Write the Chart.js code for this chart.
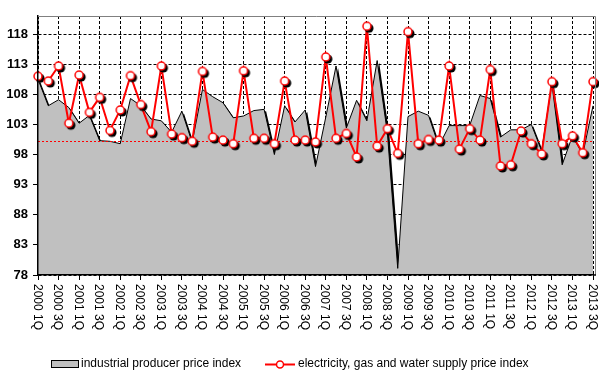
<!DOCTYPE html>
<html>
<head>
<meta charset="utf-8">
<script src="https://cdn.jsdelivr.net/npm/chart.js@4/dist/chart.umd.min.js"></script>
<style>
html,body{margin:0;padding:0;background:#fff;}
#wrap{position:relative;width:611px;height:392px;}
</style>
</head>
<body>
<div id="wrap"><canvas id="c" width="611" height="392"></canvas></div>
<script>
const categories = [
  '2000 1Q','2000 2Q','2000 3Q','2000 4Q',
  '2001 1Q','2001 2Q','2001 3Q','2001 4Q',
  '2002 1Q','2002 2Q','2002 3Q','2002 4Q',
  '2003 1Q','2003 2Q','2003 3Q','2003 4Q',
  '2004 1Q','2004 2Q','2004 3Q','2004 4Q',
  '2005 1Q','2005 2Q','2005 3Q','2005 4Q',
  '2006 1Q','2006 2Q','2006 3Q','2006 4Q',
  '2007 1Q','2007 2Q','2007 3Q','2007 4Q',
  '2008 1Q','2008 2Q','2008 3Q','2008 4Q',
  '2009 1Q','2009 2Q','2009 3Q','2009 4Q',
  '2010 1Q','2010 2Q','2010 3Q','2010 4Q',
  '2011 1Q','2011 2Q','2011 3Q','2011 4Q',
  '2012 1Q','2012 2Q','2012 3Q','2012 4Q',
  '2013 1Q','2013 2Q','2013 3Q'
];

// industrial producer price index (grey area)
const ppiValues = [
  110.5, 106.1, 107.1, 105.8,
  103.2, 104.5, 100.3, 100.2,
  99.8, 107.3, 106.1, 103.9,
  103.6, 101.7, 105.2, 100.0,
  108.8, 107.6, 106.6, 104.1,
  104.4, 105.3, 105.5, 98.0,
  106.1, 103.4, 105.4, 96.0,
  104.2, 112.7, 102.4, 107.0,
  103.6, 113.6, 101.5, 79.1,
  104.3, 105.2, 104.5, 99.4,
  102.8, 102.8, 102.8, 107.8,
  107.3, 100.9, 102.1, 102.1,
  103.0, 98.6, 109.8, 96.3,
  101.1, 98.0, 106.1
];

// electricity, gas and water supply price index (red line)
const elecValues = [
  111.0, 110.2, 112.7, 103.2,
  111.2, 105.0, 107.5, 102.0,
  105.4, 111.1, 106.3, 101.8,
  112.7, 101.4, 100.8, 100.2,
  111.8, 100.9, 100.4, 99.8,
  111.9, 100.7, 100.7, 99.8,
  110.2, 100.4, 100.4, 100.1,
  114.2, 100.7, 101.5, 97.6,
  119.3, 99.4, 102.3, 98.2,
  118.4, 99.8, 100.5, 100.4,
  112.7, 98.9, 102.3, 100.4,
  112.1, 96.1, 96.3, 101.9,
  99.8, 98.1, 110.1, 99.8,
  101.1, 98.3, 110.1
];

const yTicks = [78, 83, 88, 93, 98, 103, 108, 113, 118];
const yMin = 78;
const yMax = 121;
const referenceLevel = 100.3;
const seriesNames = ['industrial producer price index', 'electricity, gas and water supply price index'];

const FONT = '"Liberation Sans", Arial, sans-serif';
Chart.defaults.font.family = FONT;

// marker image: white circle, red ring, black drop shadow
function makeMarker() {
  const c = document.createElement('canvas');
  c.width = 18; c.height = 18;
  const g = c.getContext('2d');
  g.fillStyle = '#000';
  g.beginPath(); g.arc(11, 11, 4.6, 0, Math.PI * 2); g.fill();
  g.fillStyle = '#fff';
  g.strokeStyle = '#ff0000';
  g.lineWidth = 1.5;
  g.beginPath(); g.arc(9, 9, 4, 0, Math.PI * 2); g.fill(); g.stroke();
  return c;
}
const marker = makeMarker();

function setShadow(ctx, on) {
  ctx.shadowColor = on ? '#000' : 'rgba(0,0,0,0)';
  ctx.shadowOffsetX = on ? 2 : 0;
  ctx.shadowOffsetY = on ? 2 : 0;
  ctx.shadowBlur = 0;
}

const decorPlugin = {
  id: 'decor',
  beforeDatasetsDraw(chart) {
    chart.ctx.save();
    setShadow(chart.ctx, true); // shadow for the grey fill (filler draws it first)
  },
  beforeDatasetDraw(chart) {
    setShadow(chart.ctx, false);
  },
  afterDatasetDraw(chart, args) {
    const ctx = chart.ctx;
    if (args.index === 1) {
      const a = chart.chartArea;
      const y = Math.round(chart.scales.y.getPixelForValue(referenceLevel)) + 0.5;
      ctx.save();
      ctx.strokeStyle = '#ff0000';
      ctx.lineWidth = 1;
      ctx.setLineDash([2, 2]);
      ctx.beginPath();
      ctx.moveTo(a.left, y);
      ctx.lineTo(a.right, y);
      ctx.stroke();
      ctx.restore();
    }
  },
  afterDatasetsDraw(chart) {
    chart.ctx.restore();
  },
  afterDraw(chart) {
    const ctx = chart.ctx;
    const a = chart.chartArea;
    const xs = chart.scales.x;
    ctx.save();
    // plot frame top/right (grey)
    ctx.strokeStyle = '#808080';
    ctx.lineWidth = 1;
    ctx.beginPath();
    ctx.moveTo(a.left, a.top + 0.5);
    ctx.lineTo(a.right + 2.5, a.top + 0.5);
    ctx.lineTo(a.right + 2.5, a.bottom);
    ctx.stroke();
    ctx.strokeStyle = '#000';
    ctx.lineWidth = 1.5;
    ctx.beginPath();
    ctx.moveTo(a.right, a.bottom);
    ctx.lineTo(a.right + 3, a.bottom);
    ctx.stroke();

    // x labels, rotated clockwise
    ctx.fillStyle = '#000';
    ctx.font = '12px ' + FONT;
    ctx.textAlign = 'left';
    ctx.textBaseline = 'middle';
    categories.forEach((lab, i) => {
      if (i % 2) return;
      const x = xs.getPixelForValue(i);
      ctx.save();
      ctx.translate(x - 1, a.bottom + 9);
      ctx.rotate(Math.PI / 2);
      ctx.fillText(lab, 0, 0);
      ctx.restore();
    });

    // legend
    const ly = 364;
    ctx.fillStyle = '#c0c0c0';
    ctx.fillRect(51, 360, 28, 8);
    ctx.strokeStyle = '#000';
    ctx.lineWidth = 1;
    ctx.strokeRect(51.5, 360.5, 27, 7);
    ctx.fillStyle = '#000';
    ctx.font = '12px ' + FONT;
    ctx.fillText(seriesNames[0], 81, ly);

    ctx.strokeStyle = '#ff0000';
    ctx.lineWidth = 2;
    ctx.beginPath();
    ctx.moveTo(265, ly + 0.5);
    ctx.lineTo(295, ly + 0.5);
    ctx.stroke();
    ctx.beginPath();
    ctx.arc(280, ly + 0.5, 3.5, 0, Math.PI * 2);
    ctx.fillStyle = '#fff';
    ctx.fill();
    ctx.lineWidth = 1.5;
    ctx.stroke();
    ctx.fillStyle = '#000';
    ctx.fillText(seriesNames[1], 298, ly);
    ctx.restore();
  }
};

new Chart(document.getElementById('c'), {
  type: 'line',
  data: {
    labels: categories,
    datasets: [
      {
        label: seriesNames[1],
        data: elecValues,
        borderColor: '#ff0000',
        borderWidth: 2,
        pointStyle: marker,
        pointRadius: 4,
        fill: false,
        tension: 0,
        order: 1
      },
      {
        label: seriesNames[0],
        data: ppiValues,
        borderColor: '#000000',
        borderWidth: 1,
        backgroundColor: '#c0c0c0',
        fill: 'start',
        pointRadius: 0,
        tension: 0,
        order: 2
      }
    ]
  },
  options: {
    responsive: false,
    animation: false,
    devicePixelRatio: 1,
    layout: { padding: { left: 0, right: 18, top: 16, bottom: 0 } },
    plugins: {
      legend: { display: false },
      tooltip: { enabled: false }
    },
    scales: {
      x: {
        type: 'category',
        offset: false,
        grid: {
          color: c => (c.index % 2 === 0 ? '#000' : 'rgba(0,0,0,0)'),
          tickColor: c => (c.index % 2 === 0 ? '#000' : 'rgba(0,0,0,0)'),
          lineWidth: 1,
          tickLength: 5,
          drawTicks: true
        },
        border: { display: true, color: '#000', width: 1.5, dash: [3, 2], z: 1 },
        ticks: { display: false, autoSkip: false },
        afterFit: s => { s.height = 117; }
      },
      y: {
        type: 'linear',
        min: yMin,
        max: yMax,
        afterBuildTicks: s => { s.ticks = yTicks.map(v => ({ value: v })); },
        grid: { color: '#000', lineWidth: 1, tickLength: 5, tickColor: '#000' },
        border: { display: true, color: '#000', width: 1.5, dash: [3, 2], z: 1 },
        ticks: {
          color: '#000',
          padding: 5,
          font: { size: 13, weight: 'bold', family: FONT }
        },
        afterFit: s => { s.width = 38; }
      }
    }
  },
  plugins: [decorPlugin]
});
</script>
</body>
</html>
